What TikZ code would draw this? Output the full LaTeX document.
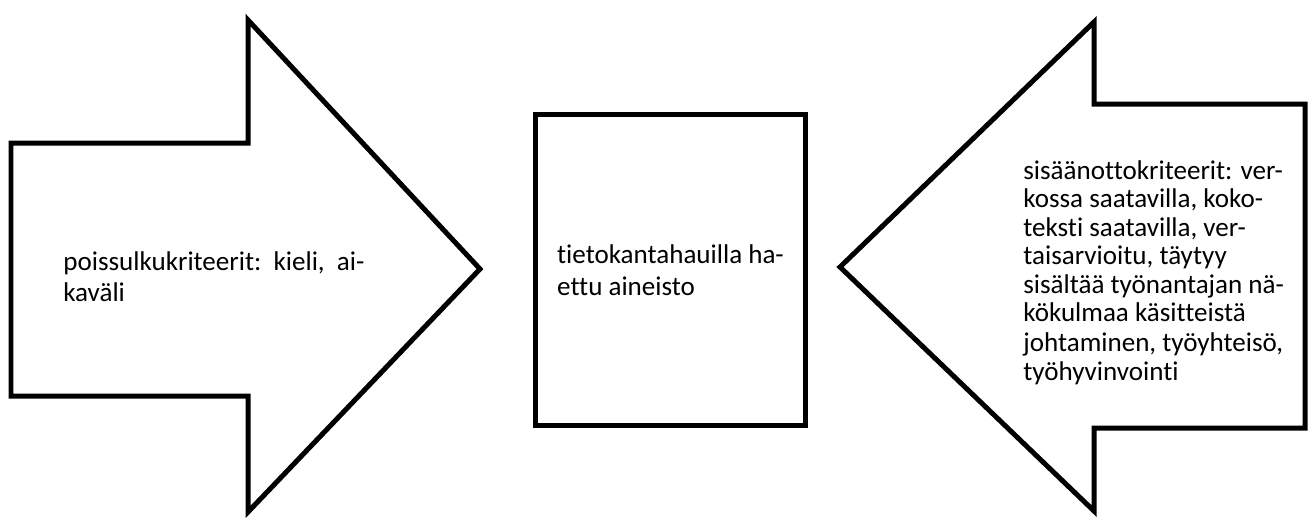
\documentclass[tikz,border=0pt]{standalone}
\usepackage{fontspec}
\setmainfont{Carlito}[Ligatures=NoCommon]
\usepackage{tikz}
\usetikzlibrary{positioning}
\tikzset{
  shp/.style={draw=black,line width=0.1cm,fill=white},
  box/.style={draw=black,line width=0.1cm,fill=white,minimum width=5.42cm,minimum height=6.22cm,align=left,inner sep=0pt},
  lbl/.style={align=left,inner sep=0pt,anchor=north west},
  wide/.style={font=\fontsize{15.4}{17.9}\selectfont},
  tight/.style={font=\fontsize{15.4}{16.2}\selectfont}
}
\begin{document}
\begin{tikzpicture}[x=0.02cm,y=-0.02cm]
\useasboundingbox (0,0) rectangle (1310,522);
\draw[shp] (11,143) -- (248,143) -- (248,20) -- (480,269) -- (248,512) -- (248,396) -- (11,396) -- cycle;
\draw[shp] (1305,104) -- (1094,104) -- (1094,22) -- (840,267) -- (1094,511) -- (1094,428) -- (1305,428) -- cycle;
\node[box,wide] (hae) at (670.5,270) {tietokantahauilla ha-\\ettu aineisto};
\node[lbl,wide] (pois) at (63,251) {poissulkukriteerit:\ \ kieli,\ \ ai-\\kaväli};
\node[lbl,tight] (sis) at (1023,160) {sisäänottokriteerit: ver-\\kossa saatavilla, koko-\\teksti saatavilla, ver-\\taisarvioitu, täytyy\\sisältää työnantajan nä-\\kökulmaa käsitteistä\\[1pt]johtaminen, työyhteisö,\\työhyvinvointi};
\end{tikzpicture}
\end{document}
